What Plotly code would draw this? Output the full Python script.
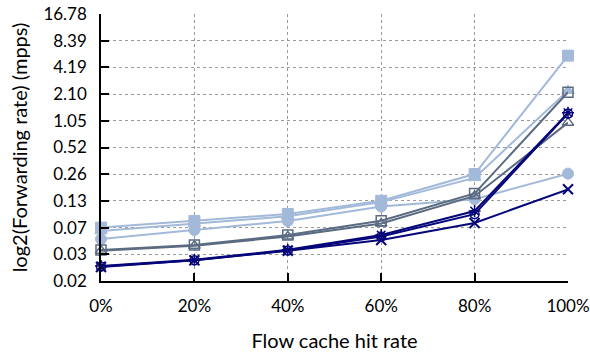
import plotly.graph_objects as go
import math

hit_rate = ["0%", "20%", "40%", "60%", "80%", "100%"]
x_pos = [0, 20, 40, 60, 80, 100]

lb_square = [0.0655, 0.0778, 0.0933, 0.1316, 0.263, 5.69]
lb_triangle = [0.060, 0.072, 0.088, 0.127, 0.238, 2.29]
lb_circle = [0.0487, 0.0616, 0.0778, 0.113, 0.137, 0.266]
sl_square = [0.0366, 0.0417, 0.054, 0.0784, 0.159, 2.20]
sl_triangle = [0.0360, 0.0410, 0.052, 0.073, 0.149, 1.00]
nv_asterisk = [0.0242, 0.0285, 0.0368, 0.054, 0.1008, 1.29]
nv_circle = [0.0238, 0.0281, 0.0362, 0.052, 0.093, 1.27]
nv_x = [0.0236, 0.0280, 0.0360, 0.0475, 0.074, 0.177]

tick_vals = [2 ** k / 1e6 for k in range(14, 25)]
tick_text = ["0.02", "0.03", "0.07", "0.13", "0.26", "0.52", "1.05", "2.10", "4.19", "8.39", "16.78"]

LB = "#a3b9da"
SL = "#5b6b82"
NV = "#06067a"

series = [
    (lb_circle, LB, "circle", 11, 1),
    (lb_triangle, LB, "triangle-up", 11, 1),
    (lb_square, LB, "square", 11, 1),
    (sl_triangle, SL, "triangle-up-open", 10, 1.5),
    (sl_square, SL, "square-open", 10, 1.5),
    (nv_circle, NV, "circle-open", 9, 1.5),
    (nv_asterisk, NV, "asterisk-open", 10, 1.5),
    (nv_x, NV, "x-thin-open", 10, 2),
]

fig = go.Figure()
for ys, col, sym, size, mlw in series:
    fig.add_trace(go.Scatter(
        x=x_pos, y=ys, mode="lines+markers",
        line=dict(color=col, width=2),
        marker=dict(symbol=sym, size=size, color=col, line=dict(color=col, width=mlw)),
        cliponaxis=False, showlegend=False,
    ))

FONT = "Lato"
GRID = "#9a9a9a"
fig.update_layout(
    width=590, height=352,
    margin=dict(l=101, r=22, t=14, b=71),
    plot_bgcolor="white", paper_bgcolor="white",
    font=dict(family=FONT, size=17, color="black"),
    showlegend=False,
)
fig.update_xaxes(
    range=[0, 100], tickvals=x_pos, ticktext=hit_rate,
    showline=True, linecolor="black", linewidth=1.5, mirror=False,
    ticks="inside", ticklen=8, tickcolor="black", tickwidth=1.5,
    showgrid=True, gridcolor=GRID, griddash="dot", gridwidth=1,
    zeroline=False, ticklabelstandoff=9, automargin=False,
    title=dict(text="Flow cache hit rate", standoff=24),
)
fig.update_yaxes(
    type="log", range=[math.log10(tick_vals[0]), math.log10(tick_vals[-1])],
    tickvals=tick_vals, ticktext=tick_text,
    showline=True, linecolor="black", linewidth=1.5, mirror=False,
    ticks="inside", ticklen=8, tickcolor="black", tickwidth=1.5,
    showgrid=True, gridcolor=GRID, griddash="dot", gridwidth=1,
    zeroline=False, ticklabelstandoff=9, automargin=False,
    title=dict(text="log2(Forwarding rate) (mpps)", standoff=10),
)
fig.write_html("out.html")
